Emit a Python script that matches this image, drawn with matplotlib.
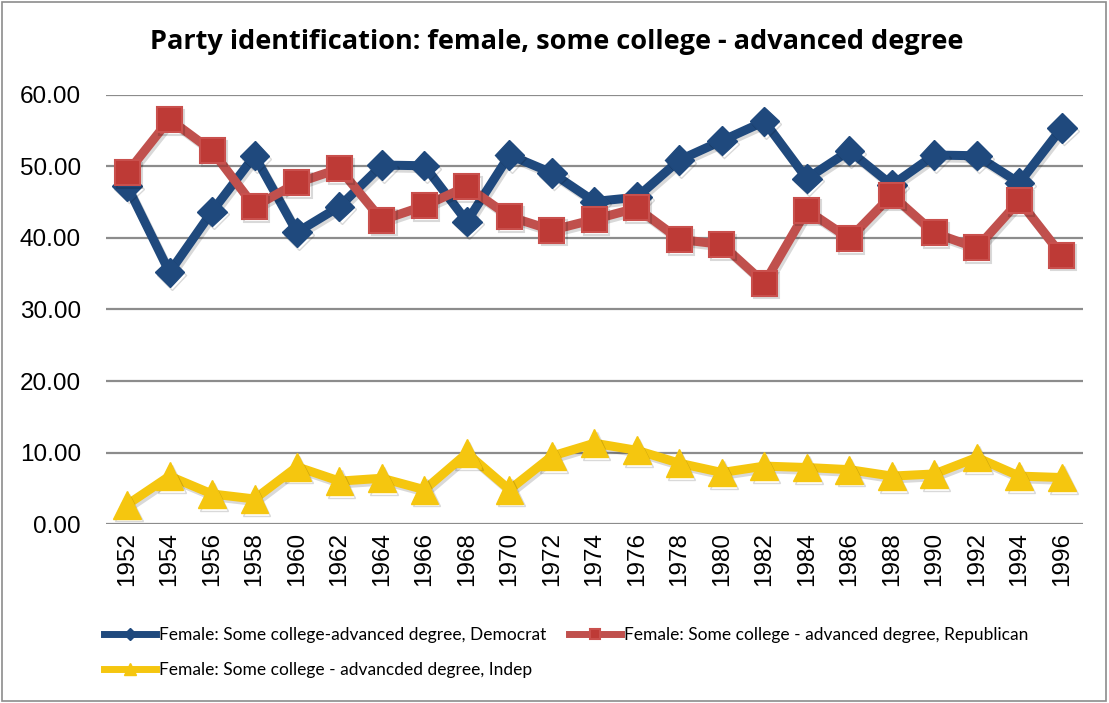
import numpy as np
import matplotlib.pyplot as plt
import matplotlib.patheffects as pe

# Data
years = ['1952', '1954', '1956', '1958', '1960', '1962', '1964', '1966', '1968', '1970', '1972', '1974',
         '1976', '1978', '1980', '1982', '1984', '1986', '1988', '1990', '1992', '1994', '1996']
democrat = [47.3, 35.2, 43.7, 51.5, 40.8, 44.4, 50.2, 50.1, 42.3, 51.6, 49.1, 45.1,
            45.7, 50.9, 53.6, 56.3, 48.3, 52.2, 47.4, 51.6, 51.5, 47.7, 55.4]
republican = [49.1, 56.6, 52.2, 44.4, 47.7, 49.7, 42.5, 44.5, 47.2, 43.0, 41.1, 42.6,
              44.2, 39.8, 39.1, 33.7, 43.9, 39.9, 46.0, 40.7, 38.6, 45.2, 37.6]
indep = [2.7, 6.7, 4.2, 3.5, 8.0, 6.0, 6.4, 4.8, 9.9, 4.8, 9.5, 11.3,
         10.3, 8.5, 7.2, 8.1, 7.9, 7.6, 6.7, 7.0, 9.3, 6.7, 6.5]

labels = ['Female: Some college-advanced degree, Democrat',
          'Female: Some college - advanced degree, Republican',
          'Female: Some college - advancded degree, Indep']

plt.rcParams['font.family'] = ['Liberation Sans', 'DejaVu Sans']

fig = plt.figure(figsize=(11.09, 7.03), dpi=100)
ax = fig.add_axes([0.0954, 0.2546, 0.8812, 0.6103])

x = np.arange(len(years))
shadow = [pe.SimpleLineShadow(offset=(1.5, -2), alpha=0.15, shadow_color='black'), pe.Normal()]

l1, = ax.plot(x, democrat, color='#1F497D', lw=6.5, marker='D', ms=15,
              mfc='#1F497D', mec='#1F497D', path_effects=shadow, zorder=3)
l2, = ax.plot(x, republican, color='#C0504D', lw=6.5, marker='s', ms=18,
              mfc='#BE3A36', mec='#C9504D', mew=1.5, path_effects=shadow, zorder=4)
l3, = ax.plot(x, indep, color='#F5C60F', lw=6.5, marker='^', ms=20,
              mfc='#F5C60F', mec='#F5C60F', path_effects=shadow, zorder=3)

ax.set_xlim(-0.5, len(years) - 0.5)
ax.set_ylim(0, 60)
ax.set_yticks(np.arange(0, 61, 10))
ax.set_yticklabels([f'{v:.2f}' for v in np.arange(0, 61, 10)], fontsize=17.5)
ax.set_xticks(x)
ax.set_xticklabels(years, rotation=90, fontsize=17.5)
ax.tick_params(axis='both', length=0)
ax.tick_params(axis='y', pad=18)
ax.tick_params(axis='x', pad=6)

ax.grid(axis='y', color='#8c8c8c', lw=1.6)
ax.set_axisbelow(True)
for s in ax.spines.values():
    s.set_visible(False)

fig.text(0.502, 0.94, 'Party identification: female, some college - advanced degree',
         ha='center', va='center', fontsize=19.5, fontweight='bold', family=['Open Sans', 'DejaVu Sans'])

# column-wise fill: Democrat + Indep in first column, Republican in second
leg = fig.legend([l1, l3, l2], [labels[0], labels[2], labels[1]], ncol=2, loc='upper left',
                 bbox_to_anchor=(0.08, 0.13), frameon=False, handlelength=3.0, handletextpad=0.15,
                 columnspacing=1.3, labelspacing=1.1, markerscale=0.4,
                 prop={'family': ['Lato', 'DejaVu Sans'], 'size': 12.5})
for h in leg.legend_handles:
    h.set_linewidth(5)
    h.set_path_effects([])

# outer frame of the chart
fig.add_artist(plt.Rectangle((0.002, 0.003), 0.995, 0.994, transform=fig.transFigure,
                             fill=False, ec='#8c8c8c', lw=1.2))

fig.savefig('out.png', dpi=100)
